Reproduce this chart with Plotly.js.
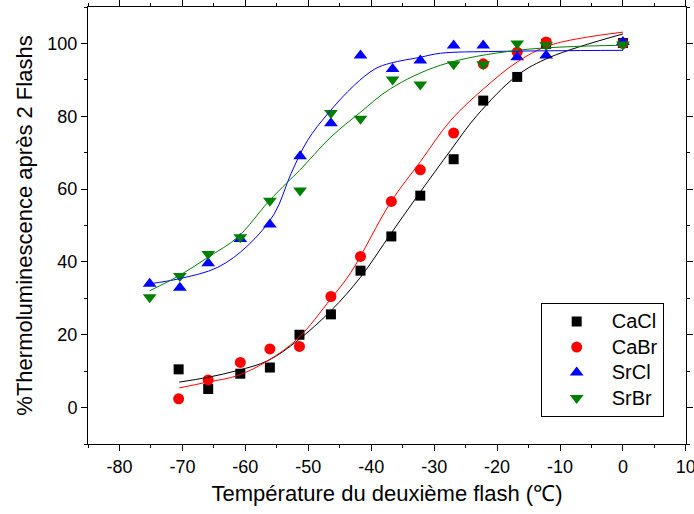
<!DOCTYPE html>
<html>
<head>
<meta charset="utf-8">
<script src="https://cdn.plot.ly/plotly-3.0.1.min.js"></script>
<style>html,body{margin:0;padding:0;background:#fff}#chart{width:694px;height:514px}</style>
</head>
<body>
<div id="chart"></div>
<script>
// ---- Data ----
const seriesNames = ['CaCl', 'CaBr', 'SrCl', 'SrBr'];

const xCa = [-70.6, -65.9, -60.8, -56.1, -51.4, -46.4, -41.7, -36.8, -32.2, -26.9, -22.2, -16.8, -12.2, 0];
const CaCl = [10.5, 5.1, 9.3, 11.0, 20.0, 25.6, 37.6, 47.0, 58.2, 68.2, 84.3, 90.8, 99.9, 100.1];
const CaBr = [2.4, 7.6, 12.4, 16.1, 16.8, 30.5, 41.5, 56.6, 65.3, 75.4, 94.4, 97.6, 100.4, 100.0];

const xSr = [-75.2, -70.4, -65.9, -60.8, -56.1, -51.3, -46.4, -41.7, -36.6, -32.2, -26.9, -22.2, -16.8, -12.2, 0];
const SrCl = [34.0, 32.9, 39.6, 46.3, 50.3, 69.0, 78.1, 96.7, 93.0, 95.3, 99.4, 99.4, 96.2, 96.7, 100.4];
const SrBr = [30.3, 36.1, 42.2, 46.8, 56.8, 59.6, 80.9, 79.3, 90.1, 88.7, 94.3, 94.3, 100.0, 99.5, 99.7];

// fitted (sigmoid) curves
const fitCaClX = [-70.5, -66.0, -61.2, -56.4, -51.7, -46.4, -41.7, -36.9, -32.2, -27.4, -23.2, -16.8, -11.6, 0];
const fitCaClY = [7.0, 8.3, 10.2, 12.9, 18.4, 26.6, 35.8, 47.7, 59.2, 70.6, 80.2, 91.2, 96.2, 102.6];
const fitCaBrX = [-70.5, -66.0, -61.2, -56.4, -51.7, -46.4, -43.2, -36.9, -32.2, -27.4, -22.1, -16.8, -11.6, 0];
const fitCaBrY = [5.4, 7.0, 8.8, 12.9, 18.9, 29.9, 37.2, 56.4, 67.5, 78.8, 87.6, 94.9, 99.5, 103.1];
const fitSrClX = [-75.2, -70.45, -64.4, -59.6, -55.4, -52.75, -50.1, -46.9, -42.7, -39.4, -36.9, -32.2, -29.0, -20.0, 0];
const fitSrClY = [34.0, 35.4, 38.5, 44.5, 53.2, 64.2, 73.4, 80.7, 88.5, 93.0, 94.6, 96.2, 97.3, 97.8, 98.1];
const fitSrBrX = [-75.2, -70.45, -65.9, -61.2, -56.4, -53.3, -51.4, -46.4, -41.7, -36.9, -29.0, -16.8, 0];
const fitSrBrY = [32.1, 36.3, 41.3, 46.8, 56.4, 61.9, 65.1, 74.3, 81.1, 87.6, 94.0, 98.1, 99.5];

const xTicks = [-80, -70, -60, -50, -40, -30, -20, -10, 0, 10];
const yTicks = [0, 20, 40, 60, 80, 100];

// ---- Styles ----
const colors = ['#000000', '#ff0000', '#0000ff', '#008000'];
const symbols = ['square', 'circle', 'triangle-up', 'triangle-down'];
const sizes = [10, 11, 12, 12];
const FONT = '"Liberation Sans", Arial, sans-serif';

const pts = [[xCa, CaCl], [xCa, CaBr], [xSr, SrCl], [xSr, SrBr]];
const fits = [[fitCaClX, fitCaClY], [fitCaBrX, fitCaBrY], [fitSrClX, fitSrClY], [fitSrBrX, fitSrBrY]];

const traces = [];
pts.forEach((p, i) => {
  traces.push({
    type: 'scatter', mode: 'markers',
    name: '<span style="font-size:20px">' + seriesNames[i] + '</span>',
    x: p[0], y: p[1],
    marker: {symbol: symbols[i], size: sizes[i], color: colors[i], line: {width: 0}}
  });
});
fits.forEach((f, i) => {
  traces.push({
    type: 'scatter', mode: 'lines', showlegend: false, hoverinfo: 'skip',
    x: f[0], y: f[1],
    line: {color: colors[i], width: 1, shape: 'spline', smoothing: 1}
  });
});

const axisCommon = {
  showgrid: false, zeroline: false, showline: true, linecolor: '#000', linewidth: 1,
  mirror: 'allticks', ticks: 'outside', ticklen: 6, tickwidth: 1, tickcolor: '#000',
  ticklabeloverflow: 'allow',
  tickfont: {family: FONT, size: 18, color: '#000'}
};

const layout = {
  width: 694, height: 514,
  margin: {l: 88, r: 8, t: 7, b: 70},
  paper_bgcolor: '#fff', plot_bgcolor: '#fff',
  font: {family: FONT, color: '#000'},
  xaxis: Object.assign({}, axisCommon, {
    range: [-85, 10.02], tickmode: 'array', tickvals: xTicks, ticktext: xTicks.map(String),
    minor: {dtick: 5, tick0: 0, ticks: 'outside', ticklen: 3, tickcolor: '#000', tickwidth: 1},
    title: {text: 'Température du deuxième flash (℃)', font: {family: FONT, size: 22, color: '#000'}, standoff: 10}
  }),
  yaxis: Object.assign({}, axisCommon, {
    range: [-10, 110], tickmode: 'array', tickvals: yTicks, ticktext: yTicks.map(String),
    minor: {dtick: 10, tick0: 0, ticks: 'outside', ticklen: 3, tickcolor: '#000', tickwidth: 1},
    title: {text: '%Thermoluminescence après 2 Flashs', font: {family: FONT, size: 22, color: '#000'}, standoff: 8}
  }),
  legend: {
    x: 0.757, y: 0.323, xanchor: 'left', yanchor: 'top',
    bgcolor: '#fff', bordercolor: '#000', borderwidth: 1,
    font: {family: FONT, size: 17.3, color: '#000'},
    itemwidth: 60, tracegroupgap: 0
  },
  showlegend: true
};

Plotly.newPlot('chart', traces, layout, {displayModeBar: false, staticPlot: true});
</script>
</body>
</html>
